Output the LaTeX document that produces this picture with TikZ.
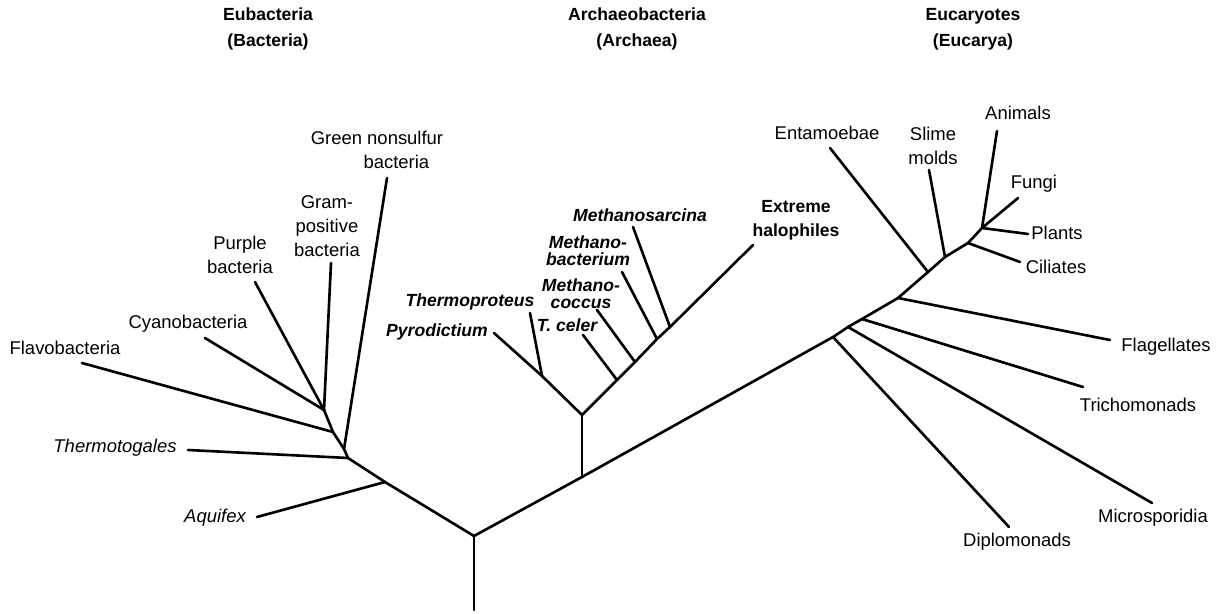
\documentclass[tikz,border=0pt]{standalone}
\usepackage{fontspec}
\setmainfont{Liberation Sans}

\begin{document}
\begin{tikzpicture}[x=0.02cm,y=-0.02cm,
    branch/.style={line width=1.5pt, line cap=round, line join=round},
    taxon/.style={font=\fontsize{10.5}{13.6}\selectfont, align=center, inner sep=0pt},
    archtaxon/.style={taxon, font=\fontsize{10}{9.6}\selectfont\bfseries\itshape},
    domainhead/.style={font=\fontsize{10}{14.7}\selectfont\bfseries, align=center, inner sep=0pt}]

\useasboundingbox (0,0) rectangle (1223,614);

% ---- root ----
\coordinate (base) at (474,610);
\coordinate (root) at (474,536);
\draw[branch] (base) -- (root);

% ---- Eubacteria ----
\begin{scope}
    \coordinate (bAqu) at (385,482);
    \coordinate (bTog) at (348,458);
    \coordinate (bGrn) at (344,449);
    \coordinate (bFla) at (333,432);
    \coordinate (bTop) at (324,410);
    \coordinate (tAqu) at (257,517);
    \coordinate (tTog) at (188,450);
    \coordinate (tGrn) at (387,178);
    \coordinate (tFla) at (82,363);
    \coordinate (tCya) at (205,338);
    \coordinate (tPur) at (255,282);
    \coordinate (tGra) at (331,263);
    \draw[branch] (root) -- (bAqu) -- (bTog) -- (bGrn) -- (bFla) -- (bTop);
    \foreach \j/\t in {bAqu/tAqu, bTog/tTog, bGrn/tGrn, bFla/tFla,
                       bTop/tCya, bTop/tPur, bTop/tGra}
        \draw[branch] (\j) -- (\t);
    \node[taxon] (flavo) at (65,348) {Flavobacteria};
    \node[taxon] (cyano) at (188,324) {Cyanobacteria};
    \node[taxon] (purple) at (240,255) {Purple\\bacteria};
    \node[taxon] (grampos) at (327,226) {Gram-\\positive\\bacteria};
    \node[taxon] (green) at (377,150) {Green nonsulfur\\\hspace*{2.1em}bacteria};
    \node[taxon, font=\fontsize{10.5}{13.6}\selectfont\itshape] (togales) at (115,448) {Thermotogales};
    \node[taxon, font=\fontsize{10.5}{13.6}\selectfont\itshape] (aquifex) at (215,518) {Aquifex};
\end{scope}

% ---- Archaea ----
\begin{scope}
    \coordinate (aBase) at (582,477);
    \coordinate (aRoot) at (582,415);
    \coordinate (aThp) at (542,376);
    \coordinate (aCel) at (617,380);
    \coordinate (aCoc) at (635,362);
    \coordinate (aBac) at (657,339);
    \coordinate (aSar) at (670,327);
    \coordinate (tPyr) at (494,333);
    \coordinate (tThp) at (530,313);
    \coordinate (tCel) at (583,335);
    \coordinate (tCoc) at (597,310);
    \coordinate (tBac) at (622,272);
    \coordinate (tSar) at (633,227);
    \coordinate (tHal) at (753,245);
    \draw[branch] (aBase) -- (aRoot);
    \draw[branch] (aRoot) -- (aThp) -- (tPyr);
    \draw[branch] (aRoot) -- (aCel) -- (aCoc) -- (aBac) -- (aSar) -- (tHal);
    \foreach \j/\t in {aThp/tThp, aCel/tCel, aCoc/tCoc, aBac/tBac, aSar/tSar}
        \draw[branch] (\j) -- (\t);
    \node[archtaxon] (pyro) at (437,332) {Pyrodictium};
    \node[archtaxon] (thermop) at (470,302) {Thermoproteus};
    \node[archtaxon] (tceler) at (567,325) {T. celer};
    \node[archtaxon] (mcoccus) at (581,294) {Methano-\\coccus};
    \node[archtaxon] (mbact) at (588,251) {Methano-\\bacterium};
    \node[archtaxon] (msarc) at (640,215) {Methanosarcina};
    \node[taxon, font=\fontsize{10}{13.6}\selectfont\bfseries] (halo) at (796,220) {Extreme\\halophiles};
\end{scope}

% ---- Eucarya ----
\begin{scope}
    \coordinate (eDip) at (833,337);
    \coordinate (eMic) at (848,327);
    \coordinate (eTri) at (862,319);
    \coordinate (eFla) at (898,298);
    \coordinate (eEnt) at (928,272);
    \coordinate (eSli) at (945,257);
    \coordinate (eCil) at (968,243);
    \coordinate (eTop) at (982,228);
    \coordinate (tDip) at (1009,527);
    \coordinate (tMic) at (1152,503);
    \coordinate (tTri) at (1083,387);
    \coordinate (tFlg) at (1110,340);
    \coordinate (tEnt) at (830,148);
    \coordinate (tSli) at (929,170);
    \coordinate (tCil) at (1020,262);
    \coordinate (tAni) at (997,131);
    \coordinate (tFun) at (1018,198);
    \coordinate (tPla) at (1028,234);
    \draw[branch] (root) -- (aBase) -- (eDip) -- (eMic) -- (eTri) -- (eFla)
        -- (eEnt) -- (eSli) -- (eCil) -- (eTop);
    \foreach \j/\t in {eDip/tDip, eMic/tMic, eTri/tTri, eFla/tFlg, eEnt/tEnt,
                       eSli/tSli, eCil/tCil, eTop/tAni, eTop/tFun, eTop/tPla}
        \draw[branch] (\j) -- (\t);
    \node[taxon] (diplo) at (1017,542) {Diplomonads};
    \node[taxon] (micro) at (1153,518) {Microsporidia};
    \node[taxon] (tricho) at (1138,405) {Trichomonads};
    \node[taxon] (flag) at (1166,347) {Flagellates};
    \node[taxon] (entam) at (827,133) {Entamoebae};
    \node[taxon] (slime) at (933,146) {Slime\\molds};
    \node[taxon] (animals) at (1018,113) {Animals};
    \node[taxon] (fungi) at (1034,184) {Fungi};
    \node[taxon] (plants) at (1057,233) {Plants};
    \node[taxon] (ciliates) at (1056,267) {Ciliates};
\end{scope}

% ---- domain headings ----
\node[domainhead] (eubac) at (268,29) {Eubacteria\\(Bacteria)};
\node[domainhead] (archae) at (637,29) {Archaeobacteria\\(Archaea)};
\node[domainhead] (eucar) at (973,29) {Eucaryotes\\(Eucarya)};

\end{tikzpicture}
\end{document}
